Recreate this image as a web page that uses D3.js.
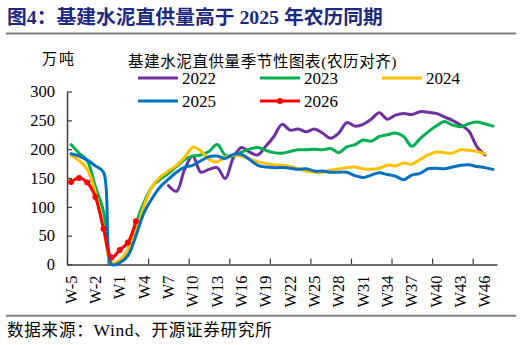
<!DOCTYPE html>
<html>
<head>
<meta charset="utf-8">
<script src="https://cdn.jsdelivr.net/npm/d3@7"></script>
<style>
html,body{margin:0;padding:0;background:#fff;}
svg{display:block;}
</style>
</head>
<body>
<svg id="chart" width="522" height="345"></svg>
<script>
const categories = ["W-5","W-4","W-3","W-2","W-1","W0"];
for (let i = 1; i <= 47; i++) categories.push("W" + i);

const tickLabels = ["W-5","W-2","W1","W4","W7","W10","W13","W16","W19","W22","W25","W28","W31","W34","W37","W40","W43","W46"];
const yTicks = [0, 50, 100, 150, 200, 250, 300];

const s2022 = [null,null,null,null,null,null,null,null,null,null,null,null,
  137,127,165,188,160,165,168,149,185,203,195,190,205,222,243,233,235,230,235,228,219,228,246,240,243,252,263,252,259,262,260,265,264,262,256,250,242,232,205,190,null];
const s2023 = [208,193,180,135,92,3,4,25,70,108,135,148,158,170,182,188,190,196,208,190,188,195,200,203,198,194,193,196,199,199,200,199,201,194,204,208,216,214,222,225,228,222,205,218,230,240,248,242,239,244,247,244,240];
const s2024 = [189,180,165,125,65,3,8,25,58,102,135,152,162,172,186,203,197,182,178,186,190,188,183,178,175,173,172,170,166,162,160,160,164,166,168,169,166,165,167,172,171,176,174,182,190,195,194,193,199,198,196,192,null];
const s2025 = [192,188,181,171,160,0,3,15,50,90,115,135,148,160,169,172,180,187,188,184,191,191,182,172,169,168,168,167,165,166,162,162,160,160,160,154,151,155,159,156,153,147,155,158,166,167,166,169,172,173,170,168,165];
const s2026 = [143,150,142,117,62,12,25,38,75];

const seriesNames = ["2022","2023","2024","2025","2026"];
const seriesColors = ["#7030A0","#00B050","#FFC000","#0070C0","#FF0000"];
const seriesData = [s2022, s2023, s2024, s2025, s2026];

const svg = d3.select("#chart");
const L = 67, R = 497, T = 91.5, B = 264.5;

const x = d3.scaleBand().domain(categories).range([L, R]).padding(0);
const xi = d3.scaleLinear().domain([0, categories.length]).range([L, R]);
const y = d3.scaleLinear().domain([0, 300]).range([B, T]);
const cx = c => x(c) + x.bandwidth() / 2;

const serif = "'Liberation Serif','Times New Roman',serif";
const cjk = "'Liberation Serif','Noto Sans CJK SC',sans-serif";

// Header
svg.append("text").attr("x", 7).attr("y", 24)
  .attr("font-family", cjk).attr("font-weight", "bold").attr("font-size", 19.8)
  .attr("fill", "#1c2a82").text("图4：基建水泥直供量高于 2025 年农历同期");
svg.append("line").attr("x1", 6).attr("x2", 516).attr("y1", 33.5).attr("y2", 33.5)
  .attr("stroke", "#7f7f7f").attr("stroke-width", 2);

svg.append("text").attr("x", 42).attr("y", 64)
  .attr("font-family", cjk).attr("font-size", 15).attr("letter-spacing", 2)
  .attr("fill", "#000").text("万吨");
svg.append("text").attr("x", 128).attr("y", 67)
  .attr("font-family", cjk).attr("font-size", 15.5).attr("letter-spacing", 0.6)
  .attr("fill", "#000").text("基建水泥直供量季节性图表(农历对齐)");

// Axes
const yAxis = d3.axisLeft(y).tickValues(yTicks).tickSizeInner(-5).tickSizeOuter(0).tickPadding(12);
const gy = svg.append("g").attr("transform", `translate(${L},0)`).call(yAxis);
gy.selectAll("text").attr("font-family", serif).attr("font-size", 16.5).attr("fill", "#000");
gy.selectAll("line").attr("stroke", "#404040").attr("stroke-width", 1.2);
gy.select(".domain").attr("stroke", "#404040").attr("stroke-width", 1.5);

const xAxisTicks = d3.axisBottom(xi).tickValues(d3.range(0, categories.length, 5)).tickSizeInner(-6).tickSizeOuter(0).tickFormat("");
const gxt = svg.append("g").attr("transform", `translate(0,${B})`).call(xAxisTicks);
gxt.selectAll("line").attr("stroke", "#404040").attr("stroke-width", 1.2);
gxt.select(".domain").attr("stroke", "#404040").attr("stroke-width", 1.5);

const xAxis = d3.axisBottom(x).tickValues(tickLabels).tickSize(0);
const gx = svg.append("g").attr("transform", `translate(0,${B})`).call(xAxis);
gx.select(".domain").remove();
gx.selectAll("text")
  .attr("font-family", serif).attr("font-size", 16.5).attr("fill", "#000")
  .attr("transform", "rotate(-90)")
  .attr("text-anchor", "end")
  .attr("x", -11).attr("y", 0).attr("dy", "0.34em");

// Lines
const line = d3.line()
  .defined(d => d.v != null)
  .x(d => cx(d.c))
  .y(d => y(d.v))
  .curve(d3.curveCatmullRom.alpha(0.5));

seriesData.forEach((arr, k) => {
  const pts = arr.map((v, i) => ({c: categories[i], v}));
  svg.append("path").datum(pts)
    .attr("d", line).attr("fill", "none")
    .attr("stroke", seriesColors[k]).attr("stroke-width", 3)
    .attr("stroke-linejoin", "round").attr("stroke-linecap", "round");
  if (k === 4) {
    svg.selectAll(".m26").data(pts.filter(d => d.v != null)).enter()
      .append("circle").attr("class", "m26")
      .attr("cx", d => cx(d.c)).attr("cy", d => y(d.v)).attr("r", 3)
      .attr("fill", seriesColors[k]);
  }
});

// Legend
const legendPos = [[138, 78], [260, 78], [382, 78], [138, 101], [260, 101]];
seriesNames.forEach((name, k) => {
  const [lx, ly] = legendPos[k];
  svg.append("line").attr("x1", lx).attr("x2", lx + 40).attr("y1", ly).attr("y2", ly)
    .attr("stroke", seriesColors[k]).attr("stroke-width", 3);
  if (k === 4) {
    svg.append("circle").attr("cx", lx + 20).attr("cy", ly).attr("r", 3).attr("fill", seriesColors[k]);
  }
  svg.append("text").attr("x", lx + 44).attr("y", ly + 6)
    .attr("font-family", serif).attr("font-size", 17).attr("fill", "#000").text(name);
});

// Footer
svg.append("line").attr("x1", 6).attr("x2", 516).attr("y1", 315.7).attr("y2", 315.7)
  .attr("stroke", "#7f7f7f").attr("stroke-width", 2);
const src = svg.append("text").attr("x", 7).attr("y", 336)
  .attr("font-family", cjk).attr("font-size", 16.5).attr("fill", "#000");
src.append("tspan").attr("letter-spacing", 0.8).text("数据来源：");
src.append("tspan").attr("font-size", 17.5).attr("letter-spacing", 0.6).text("Wind");
src.append("tspan").attr("letter-spacing", 0.8).text("、开源证券研究所");
</script>
</body>
</html>
